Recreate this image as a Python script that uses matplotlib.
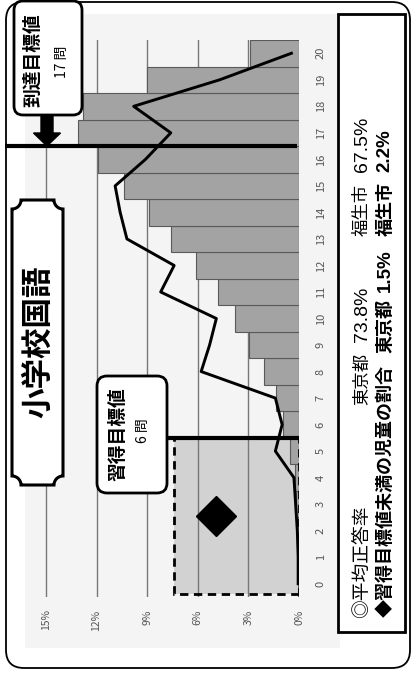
import numpy as np
import matplotlib
matplotlib.use('Agg')
import matplotlib.pyplot as plt
from matplotlib.patches import FancyBboxPatch, Rectangle, FancyArrow, PathPatch
from matplotlib.path import Path

plt.rcParams['font.family'] = ['Noto Sans CJK JP', 'DejaVu Sans']

# 問題数ごとの児童の割合(%)
questions = list(range(0, 21))
bar_pct = [0.05, 0.05, 0.1, 0.15, 0.25, 0.55, 0.95, 1.35, 2.1, 2.95, 3.8,
           4.8, 6.1, 7.6, 8.9, 10.4, 11.9, 13.1, 12.8, 9.0, 2.9]
line_pct = [0.05, 0.05, 0.1, 0.2, 0.3, 1.4, 1.0, 1.4, 5.8, 5.3, 4.9,
            8.2, 7.4, 10.2, 10.6, 10.9, 9.1, 7.6, 9.8, 4.7, 0.45]
pct_ticks = [0, 3, 6, 9, 12, 15]
pct_labels = ['0%', '3%', '6%', '9%', '12%', '15%']

target_reach = 17   # 到達目標値
target_learn = 6    # 習得目標値
learn_under = 4.9   # 習得目標値未満の割合(マーカー位置)

W, H = 411, 673
fig = plt.figure(figsize=(W / 100, H / 100), dpi=100)

# 背景 (ピクセル座標)
bg = fig.add_axes([0, 0, 1, 1], zorder=0)
bg.set_xlim(0, W)
bg.set_ylim(H, 0)
bg.axis('off')
bg.add_patch(FancyBboxPatch((6, 2), 404, 666, boxstyle='round,pad=0,rounding_size=18',
                            facecolor='white', edgecolor='black', lw=1.3))
bg.add_patch(Rectangle((25, 14), 315, 634, facecolor='#f4f4f4', edgecolor='none'))

# グラフ本体 (横倒し)
x0, x1 = 25, 299
y_top, y_bot = 40, 597
ax = fig.add_axes([x0 / W, 1 - y_bot / H, (x1 - x0) / W, (y_bot - y_top) / H], zorder=1)
ax.set_facecolor('none')
px_per_pct = 16.87
ax.set_xlim((x1 - x0) / px_per_pct, 0)
ax.set_ylim(-0.5, 20.5)
for s in ax.spines.values():
    s.set_visible(False)
ax.set_axisbelow(True)
ax.grid(axis='x', color='#777777', lw=1.0)
ax.grid(axis='y', visible=False)

ax.barh(questions, bar_pct, height=1.0, color='#a3a3a3', edgecolor='#5a5a5a', lw=0.8, zorder=2)
ax.plot(line_pct, questions, color='black', lw=2.1, zorder=3)

# 習得目標値の枠
ax.add_patch(Rectangle((0, -0.4), 7.4, target_learn - 0.5 + 0.4, facecolor='#d2d2d2',
                       edgecolor='none', zorder=0.3))
ax.add_patch(Rectangle((0, -0.4), 7.4, target_learn - 0.5 + 0.4, fill=False,
                       edgecolor='black', lw=2.0, linestyle=(0, (3, 2)), zorder=4))
ax.plot([0, 7.82], [target_learn - 0.5] * 2, color='black', lw=3.0, zorder=5,
        solid_capstyle='butt')
ax.plot([0.1, 17.43], [target_reach - 0.5] * 2, color='black', lw=3.0, zorder=5,
        clip_on=False, solid_capstyle='butt')
ax.plot(learn_under, 2.55, marker='D', ms=20, color='black', zorder=6)

ax.set_xticks(pct_ticks)
ax.set_xticklabels(pct_labels, rotation=90)
ax.tick_params(axis='x', length=0, pad=9, labelsize=7.5, labelcolor='#555555')
ax.yaxis.tick_right()
ax.set_yticks(questions)
ax.set_yticklabels([str(q) for q in questions], rotation=90)
ax.tick_params(axis='y', length=0, pad=12, labelsize=8, labelcolor='#555555')
for lb in ax.get_yticklabels():
    lb.set_va('center')

# 前面の飾り
fg = fig.add_axes([0, 0, 1, 1], zorder=2)
fg.set_facecolor('none')
fg.set_xlim(0, W)
fg.set_ylim(H, 0)
fg.axis('off')

# 到達目標値
fg.add_patch(FancyBboxPatch((14, 1), 68, 114, boxstyle='round,pad=0,rounding_size=9',
                            facecolor='white', edgecolor='black', lw=2))
fg.text(33, 60, '到達目標値', rotation=90, fontsize=13.5, fontweight='bold',
        ha='center', va='center')
fg.text(62, 62, '17 問', rotation=90, fontsize=10, ha='center', va='center')
fg.add_patch(FancyArrow(47, 115, 0, 31, width=12, head_width=27, head_length=13,
                        length_includes_head=True, color='black'))

# 習得目標値
fg.add_patch(FancyBboxPatch((97, 376), 70, 117, boxstyle='round,pad=0,rounding_size=10',
                            facecolor='white', edgecolor='black', lw=2))
fg.text(118, 434, '習得目標値', rotation=90, fontsize=13.5, fontweight='bold',
        ha='center', va='center')
fg.text(143, 431, '6 問', rotation=90, fontsize=10, ha='center', va='center')

# タイトル枠 (角が内側にえぐれた形)
tx0, tx1, ty0, ty1, r = 12, 63, 200, 485, 9


def arc(cx, cy, a0, a1):
    t = np.linspace(a0, a1, 12)
    return list(zip(cx + r * np.cos(t), cy + r * np.sin(t)))


pts = []
pts += arc(tx0, ty0, np.pi / 2, 0)
pts += arc(tx1, ty0, np.pi, np.pi / 2)
pts += arc(tx1, ty1, 1.5 * np.pi, np.pi)
pts += arc(tx0, ty1, 0, -np.pi / 2)
pts.append(pts[0])
codes = [Path.MOVETO] + [Path.LINETO] * (len(pts) - 2) + [Path.CLOSEPOLY]
fg.add_patch(PathPatch(Path(pts, codes), facecolor='white', edgecolor='black', lw=2.2))
fg.text(38, 342, '小学校国語', rotation=90, fontsize=22, fontweight='bold',
        ha='center', va='center')

# 凡例
fg.add_patch(Rectangle((338, 14), 67, 618, facecolor='white', edgecolor='black', lw=2))
num_font = ['Liberation Sans', 'DejaVu Sans']
reg = [('◎平均正答率', 618, 13.5, None), ('東京都', 405, 12.5, None),
       ('73.8%', 342, 14, num_font), ('福生市', 236, 12.5, None),
       ('67.5%', 172, 14, num_font)]
bold = [('◆習得目標値未満の児童の割合', 617, 13, None), ('東京都', 353, 13, None),
        ('1.5%', 292, 13.5, num_font), ('福生市', 236, 13, None),
        ('2.2%', 172, 13.5, num_font)]
for s, y, fs, fam in reg:
    kw = {'family': fam} if fam else {}
    fg.text(362, y, s, rotation=90, fontsize=fs, ha='center', va='bottom', **kw)
for s, y, fs, fam in bold:
    kw = {'family': fam} if fam else {}
    fg.text(385, y, s, rotation=90, fontsize=fs, fontweight='bold', ha='center',
            va='bottom', **kw)

fig.savefig('out.png', dpi=100)
